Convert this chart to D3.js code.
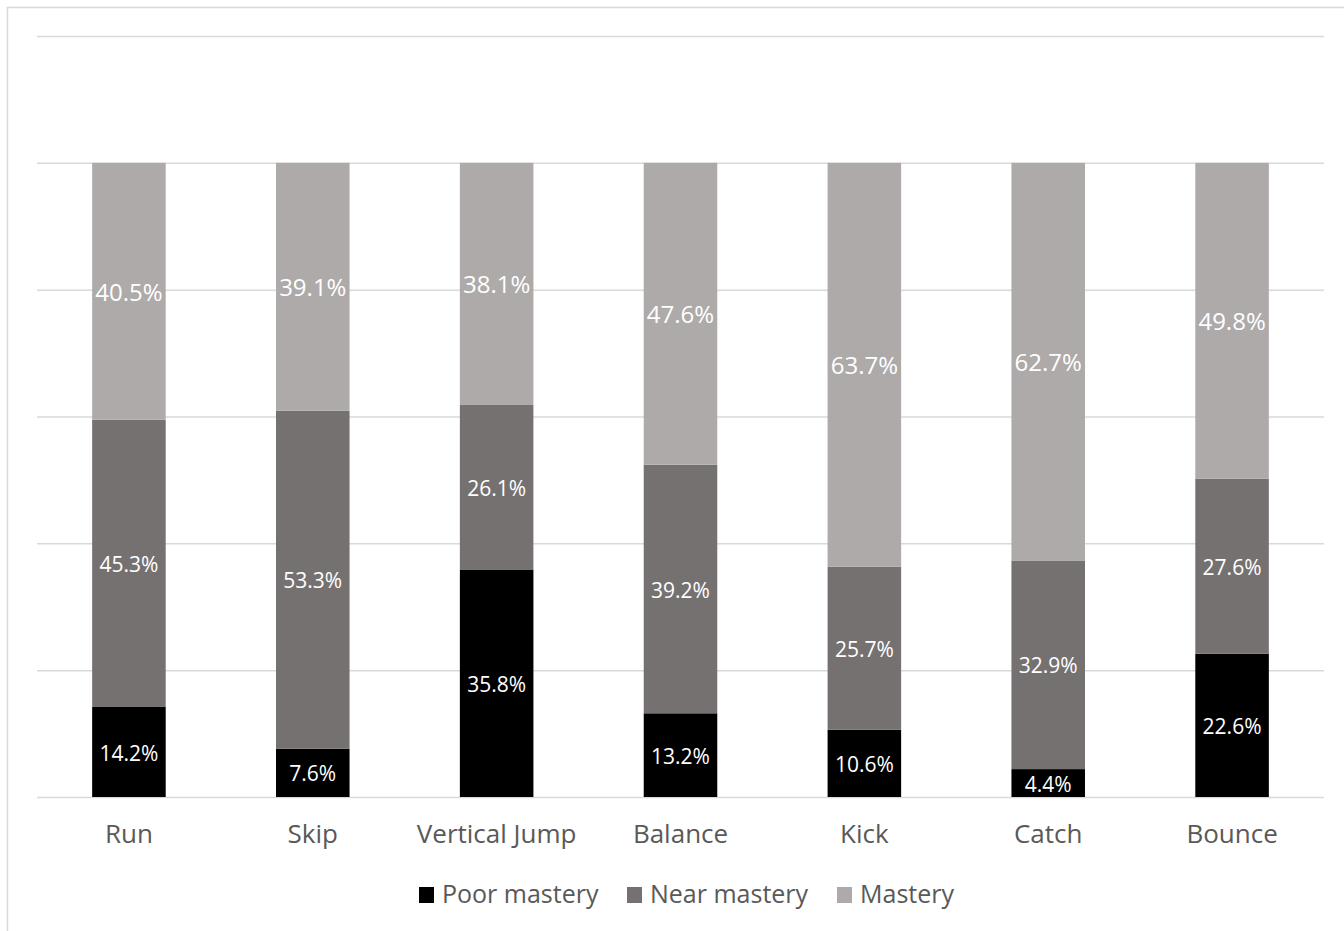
<!DOCTYPE html>
<html>
<head>
<meta charset="utf-8">
<script src="https://cdn.jsdelivr.net/npm/d3@7"></script>
<style>
  body { margin: 0; background: #fff; }
  text { font-family: "Open Sans", sans-serif; }
</style>
</head>
<body>
<svg id="chart" width="1344" height="931"></svg>
<script>
var categories = ["Run", "Skip", "Vertical Jump", "Balance", "Kick", "Catch", "Bounce"];
var seriesNames = ["Poor mastery", "Near mastery", "Mastery"];
var poor = [14.2, 7.6, 35.8, 13.2, 10.6, 4.4, 22.6];
var near = [45.3, 53.3, 26.1, 39.2, 25.7, 32.9, 27.6];
var mastery = [40.5, 39.1, 38.1, 47.6, 63.7, 62.7, 49.8];
var yTicks = [0, 20, 40, 60, 80, 100, 120];

var svg = d3.select("#chart"),
    margin = {top: 36, right: 20, bottom: 134, left: 37},
    width = 1324 - margin.left,
    height = 797 - margin.top;

var colours = d3.scaleOrdinal().domain(seriesNames).range(["#000000", "#767171", "#AEAAAA"]);

// outer frame
svg.append("rect")
    .attr("x", 7.5).attr("y", 7.5)
    .attr("width", 1400).attr("height", 1000)
    .attr("fill", "none").attr("stroke", "#d9d9d9").attr("stroke-width", 1.5);

var g = svg.append("g")
    .attr("transform", "translate(" + margin.left + "," + margin.top + ")");

var x = d3.scaleBand().domain(categories).range([0, width]).padding(0);
var y = d3.scaleLinear().domain([0, 120]).range([height, 0]);

// gridlines
g.append("g")
    .attr("class", "grid")
    .call(d3.axisLeft(y).tickValues(yTicks).tickSize(-width).tickFormat(""))
    .call(function(s) { s.select(".domain").remove(); })
    .selectAll("line")
    .attr("stroke", "#d9d9d9").attr("stroke-width", 1.5);

var table = categories.map(function(c, i) {
    return {cat: c, "Poor mastery": poor[i], "Near mastery": near[i], "Mastery": mastery[i]};
});
var stacked = d3.stack().keys(seriesNames)(table);

var barW = x.bandwidth() * 0.4;
var labelSize = {"Poor mastery": 21, "Near mastery": 21, "Mastery": 24};

var layers = g.selectAll(".layer")
    .data(stacked)
  .enter().append("g")
    .attr("class", "layer")
    .attr("fill", function(d) { return colours(d.key); });

layers.selectAll("rect")
    .data(function(d) { return d; })
  .enter().append("rect")
    .attr("x", function(d) { return x(d.data.cat) + (x.bandwidth() - barW) / 2; })
    .attr("y", function(d) { return y(d[1]); })
    .attr("width", barW)
    .attr("height", function(d) { return y(d[0]) - y(d[1]); });

layers.each(function(layer) {
    d3.select(this).selectAll("text")
        .data(layer)
      .enter().append("text")
        .attr("x", function(d) { return x(d.data.cat) + x.bandwidth() / 2; })
        .attr("y", function(d) { return (y(d[0]) + y(d[1])) / 2 + 1; })
        .attr("dy", "0.36em")
        .attr("text-anchor", "middle")
        .attr("fill", "#ffffff")
        .style("font-size", labelSize[layer.key] + "px")
        .text(function(d) { return (d[1] - d[0]).toFixed(1) + "%"; });
});

// category labels
g.append("g")
    .attr("transform", "translate(0," + height + ")")
    .call(d3.axisBottom(x).tickSize(0).tickPadding(0))
    .call(function(s) { s.select(".domain").remove(); })
    .selectAll("text")
    .attr("y", 46)
    .attr("dy", "0")
    .attr("fill", "#595959")
    .style("font-size", "26px")
    .style("font-family", "'Open Sans', sans-serif");

// legend
var legendX = [419, 627, 837];
var legend = svg.append("g")
    .selectAll("g")
    .data(seriesNames)
  .enter().append("g")
    .attr("transform", function(d, i) { return "translate(" + legendX[i] + ",887)"; });

legend.append("rect")
    .attr("width", 15).attr("height", 16)
    .attr("fill", function(d) { return colours(d); });

legend.append("text")
    .attr("x", 23).attr("y", 16)
    .attr("fill", "#595959")
    .style("font-size", "25px")
    .text(function(d) { return d; });
</script>
</body>
</html>
